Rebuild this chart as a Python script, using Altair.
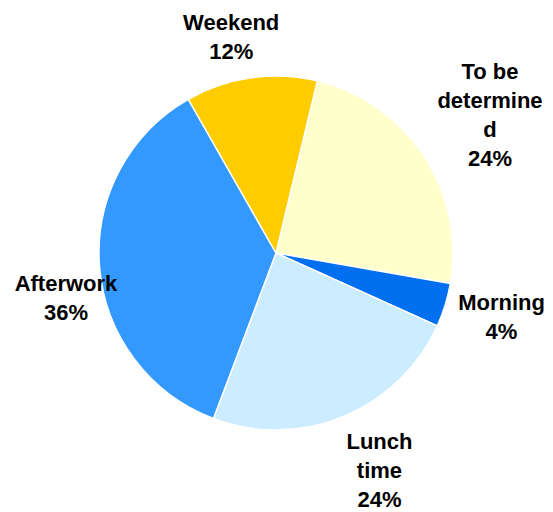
import math
import altair as alt
import pandas as pd

categories = ["To be determined", "Morning", "Lunch time", "Afterwork", "Weekend"]
label_lines = ["To be\ndetermine\nd", "Morning", "Lunch\ntime", "Afterwork", "Weekend"]
values = [24, 4, 24, 36, 12]
colors = ["#FFFFCC", "#0070F0", "#CCECFF", "#3399FF", "#FFCC00"]

df = pd.DataFrame({
    "idx": list(range(len(categories))),
    "category": categories,
    "lbl": label_lines,
    "value": values,
})

W, H = 536, 504
cx, cy = 268, 245
start = 13.5 * math.pi / 180.0
theta_scale = alt.Scale(range=[start, start + 2 * math.pi])
pie_r = 177
gap = 15
line_h = 29
char_w = 12

arcs = alt.Chart(df).mark_arc(stroke="white", strokeWidth=1.5).encode(
    theta=alt.Theta("value:Q", stack=True, scale=theta_scale),
    color=alt.Color("category:N", scale=alt.Scale(domain=categories, range=colors), legend=None),
    order=alt.Order("idx:Q"),
    radius=alt.value(pie_r),
    x=alt.value(cx),
    y=alt.value(cy),
)

sp = "split(datum.lbl, '\\n')"
labels = alt.Chart(df).transform_joinaggregate(
    total="sum(value)"
).transform_window(
    cum="sum(value)", sort=[alt.SortField("idx")], frame=[None, 0]
).transform_calculate(
    mid=f"{start} + 2*PI*(datum.cum - datum.value/2)/datum.total",
    nlines=f"length({sp}) + 1",
    wbox=f"{char_w} * max(length({sp}[0]), length({sp}[1] || ''), length({sp}[2] || ''))",
).transform_calculate(
    hbox=f"datum.nlines * {line_h}",
    ax=f"{cx} + {pie_r + gap} * sin(datum.mid)",
    ay=f"{cy} - {pie_r + gap} * cos(datum.mid)",
).transform_calculate(
    ux="datum.ax + clamp(3*sin(datum.mid), -1, 1) * datum.wbox/2",
).transform_calculate(
    bx=f"clamp(datum.ux, datum.wbox/2 + 4, {W} - datum.wbox/2)",
).transform_calculate(
    by=f"max(datum.ay - cos(datum.mid) * datum.hbox/2, datum.hbox/2)"
       " + (cos(datum.mid) < 0 ? 1 : -1) * 0.8 * abs(datum.bx - datum.ux)",
).transform_calculate(
    ty=f"datum.by - (datum.nlines - 1) * {line_h} / 2",
    txt="datum.lbl + '\\n' + datum.value + '%'",
).mark_text(
    lineBreak="\n", font="Liberation Sans", fontSize=22, fontWeight="bold",
    lineHeight=line_h, color="black", align="center", baseline="middle",
).encode(
    x=alt.X("bx:Q", scale=None),
    y=alt.Y("ty:Q", scale=None),
    text="txt:N",
)

chart = alt.layer(arcs, labels).properties(
    width=W, height=H, padding=0, autosize=alt.AutoSizeParams(type="none")
).configure_view(stroke=None)

chart.save("out.html", embed_options={"renderer": "svg", "actions": False})
